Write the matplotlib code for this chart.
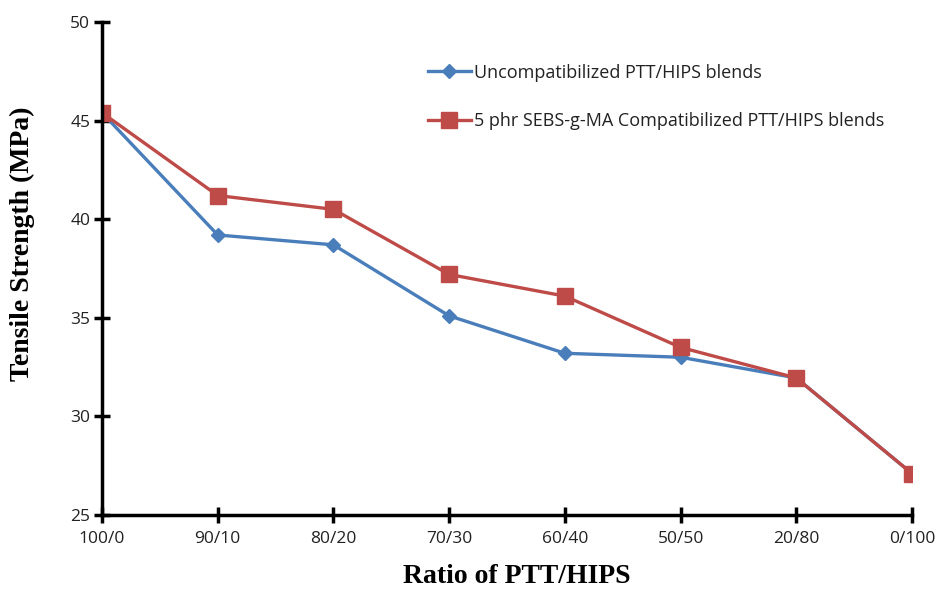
import numpy as np
import matplotlib.pyplot as plt

ratios = ["100/0", "90/10", "80/20", "70/30", "60/40", "50/50", "20/80", "0/100"]
uncompat = [45.4, 39.2, 38.7, 35.1, 33.2, 33.0, 31.95, 27.1]
compat = [45.4, 41.2, 40.5, 37.2, 36.1, 33.5, 31.95, 27.1]
labels = ["Uncompatibilized PTT/HIPS blends",
          "5 phr SEBS-g-MA Compatibilized PTT/HIPS blends"]
yticks = [25, 30, 35, 40, 45, 50]

fig = plt.figure(figsize=(9.38, 5.92), dpi=100)
ax = fig.add_axes([102 / 938, 77 / 592, 810 / 938, 493 / 592])

x = np.arange(len(ratios))
ax.plot(x, uncompat, color="#4a7ebb", lw=2.4, marker="D", ms=7, label=labels[0], zorder=3)
ax.plot(x, compat, color="#be4b48", lw=2.4, marker="s", ms=12, label=labels[1], zorder=3)

ax.set_xlim(0, len(ratios) - 1)
ax.set_ylim(25, 50)
ax.set_xticks(x)
ax.set_xticklabels(ratios)
ax.set_yticks(yticks)

for s in ["top", "right"]:
    ax.spines[s].set_visible(False)
for s in ["left", "bottom"]:
    ax.spines[s].set_linewidth(2.5)
    ax.spines[s].set_color("black")
ax.spines["left"].set_zorder(4)
ax.tick_params(direction="inout", length=11, width=2.5, labelsize=12.5,
               labelfontfamily="Open Sans", colors="black", pad=3)
ax.tick_params(axis="x", pad=6)
for t in ax.get_xticklabels() + ax.get_yticklabels():
    t.set_color("#222222")

ax.set_ylabel("Tensile Strength (MPa)", fontfamily="Liberation Serif",
              fontweight="bold", fontsize=20)
ax.yaxis.set_label_coords(-0.083, 0.55)
ax.set_xlabel("Ratio of PTT/HIPS", fontfamily="Liberation Serif",
              fontweight="bold", fontsize=20)
ax.xaxis.set_label_coords(0.512, -0.10)

leg = ax.legend(loc="center left", bbox_to_anchor=(0.382, 0.848), frameon=False,
                prop={"family": "Open Sans", "size": 13}, handlelength=2.4,
                handletextpad=0.15, labelspacing=1.7)
for t in leg.get_texts():
    t.set_color("#222222")

fig.savefig("out.png", dpi=100)
